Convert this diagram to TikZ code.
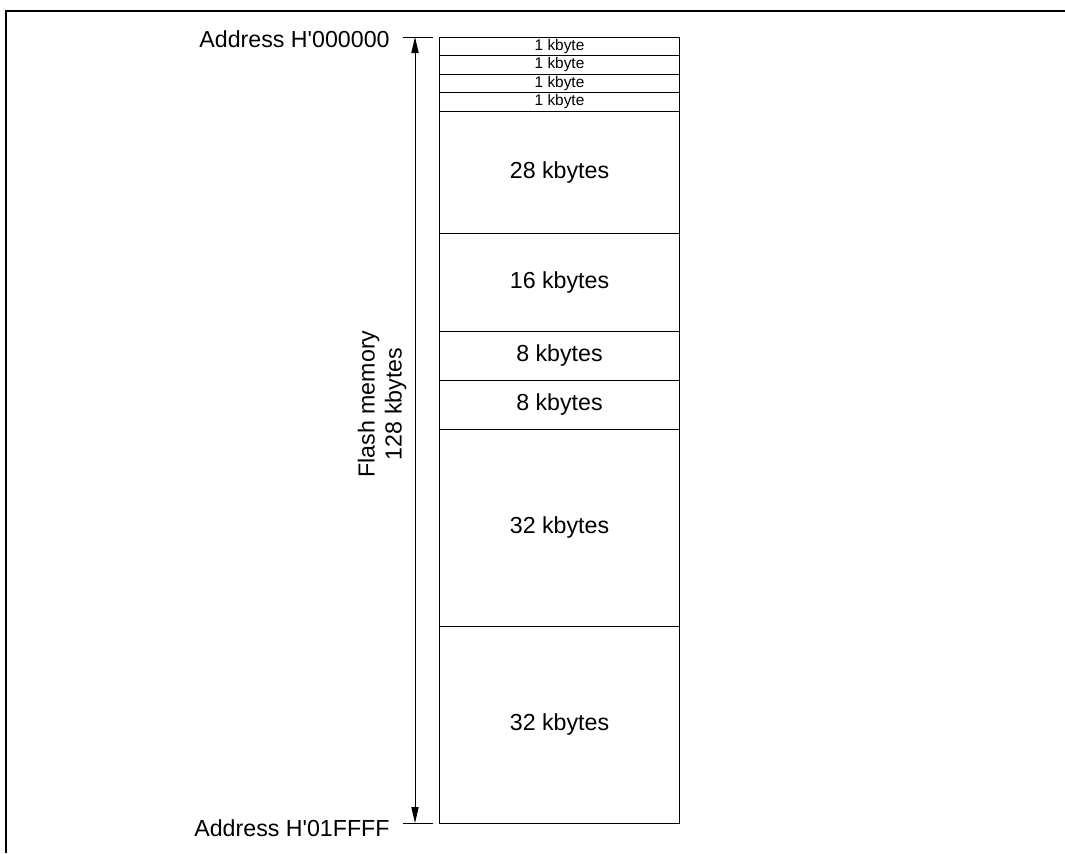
\documentclass[tikz,border=0pt]{standalone}
\usepackage{fontspec}
\setmainfont{Liberation Sans}
\usetikzlibrary{arrows.meta, positioning}

\begin{document}
\begin{tikzpicture}[
    x=0.5pt, y=-0.5pt,
    font=\fontsize{11.6}{13.5}\selectfont,
    >={Triangle[length=8pt, width=3.6pt]},
    blk_node/.style={draw, line width=0.5pt, inner sep=0pt, outer sep=0pt, minimum width=120pt, align=center},
    kb_node/.style={blk_node, minimum height=9.25pt, font=\fontsize{7.7}{8}\selectfont},
    addr_node/.style={inner sep=0pt, anchor=base east},
    tick/.style={line width=0.5pt}
]

% Frame
\useasboundingbox (0,0) rectangle (1065,853);
\draw[line width=1pt] (6,853) -- (6,11) -- (1065,11);

% Memory blocks
\node[kb_node, anchor=north] (b1) at (559.5,37) {1 kbyte};
\node[kb_node, below=0pt of b1] (b2) {1 kbyte};
\node[kb_node, below=0pt of b2] (b3) {1 kbyte};
\node[kb_node, below=0pt of b3] (b4) {1 kbyte};
\node[blk_node, minimum height=61pt, below=0pt of b4] (b5) {28 kbytes};
\node[blk_node, minimum height=49pt, below=0pt of b5] (b6) {16 kbytes};
\node[blk_node, minimum height=24.5pt, below=0pt of b6] (b7) {8 kbytes};
\node[blk_node, minimum height=24.5pt, below=0pt of b7] (b8) {8 kbytes};
\node[blk_node, minimum height=98.5pt, below=0pt of b8] (b9) {32 kbytes};
\node[blk_node, minimum height=98.5pt, below=0pt of b9] (b10) {32 kbytes};

% Address ticks
\coordinate (top_a) at (403,37);
\coordinate (top_b) at (433,37);
\coordinate (bot_a) at (403,823);
\coordinate (bot_b) at (433,823);
\draw[tick] (top_a) -- (top_b);
\draw[tick] (bot_a) -- (bot_b);

% Size arrow
\coordinate (arr_top) at (415,37);
\coordinate (arr_bot) at (415,823);
\draw[<->, line width=0.5pt] (arr_top) -- (arr_bot);

% Labels
\node[addr_node] (a_top) at (390,47) {Address H\textquotesingle 000000};
\node[addr_node] (a_bot) at (390,836) {Address H\textquotesingle 01FFFF};
\node[rotate=90, align=center, inner sep=0pt] (flash) at (382,404) {Flash memory\\128 kbytes};

\end{tikzpicture}
\end{document}
